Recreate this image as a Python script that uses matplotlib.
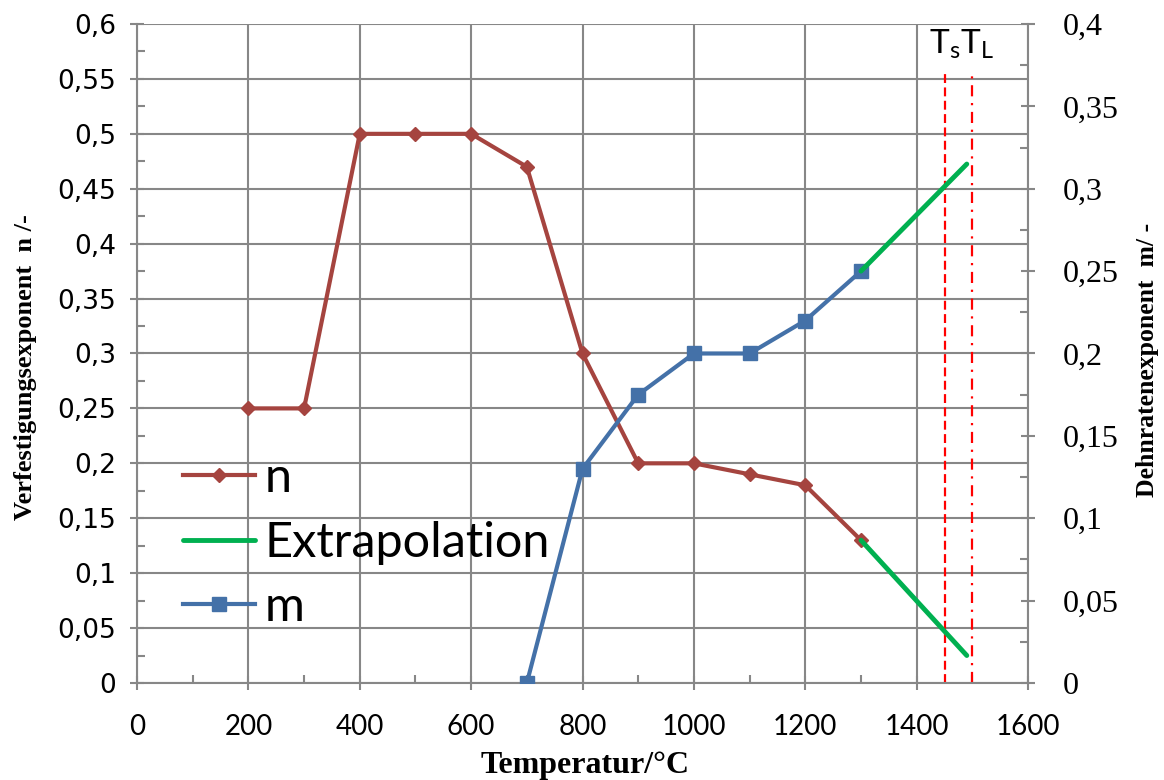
import numpy as np
import matplotlib
matplotlib.use("Agg")
import matplotlib.pyplot as plt
from matplotlib.ticker import MultipleLocator, FuncFormatter

# data
temp_n = [200, 300, 400, 500, 600, 700, 800, 900, 1000, 1100, 1200, 1300]
n_vals = [0.25, 0.25, 0.5, 0.5, 0.5, 0.47, 0.3, 0.2, 0.2, 0.19, 0.18, 0.13]
temp_m = [700, 800, 900, 1000, 1100, 1200, 1300]
m_vals = [0.0, 0.13, 0.175, 0.2, 0.2, 0.22, 0.25]
temp_extra = [1300, 1490]
n_extra = [0.13, 0.025]
m_extra = [0.25, 0.315]
T_s = 1450
T_L = 1500

red = "#A5443F"
blue = "#4471A8"
green = "#00B050"
gridc = "#878787"

fig = plt.figure(figsize=(11.64, 7.8), dpi=100)
ax = fig.add_axes([0.1177, 0.1244, 0.7655, 0.8448])
ax2 = ax.twinx()

l_n, = ax.plot(temp_n, n_vals, color=red, lw=3, marker="D", ms=7, zorder=3)
l_ex, = ax.plot(temp_extra, n_extra, color=green, lw=3.5, solid_capstyle="round", zorder=3)
ax.vlines(T_s, 0, 0.556, colors="red", linestyles=(0, (4, 2)), lw=1.6, zorder=2)
ax.vlines(T_L, 0, 0.556, colors="red", linestyles=(0, (5, 3, 1, 3)), lw=1.6, zorder=2)
ax.text(1480, 0.566, r"T$_\mathregular{s}$T$_\mathregular{L}$", ha="center", va="bottom",
        fontsize=24, family="Lato")

l_m, = ax2.plot(temp_m, m_vals, color=blue, lw=3, marker="s", ms=10, zorder=3)
ax2.plot(temp_extra, m_extra, color=green, lw=3.5, solid_capstyle="round", zorder=3)

ax.set_xlim(0, 1600)
ax.set_ylim(0, 0.6)
ax2.set_ylim(0, 0.4)

comma = FuncFormatter(lambda v, p: ("%g" % round(v, 3)).replace(".", ","))
ax.xaxis.set_major_locator(MultipleLocator(200))
ax.xaxis.set_minor_locator(MultipleLocator(100))
ax.yaxis.set_major_locator(MultipleLocator(0.05))
ax.yaxis.set_minor_locator(MultipleLocator(0.025))
ax.yaxis.set_major_formatter(comma)
ax2.yaxis.set_major_locator(MultipleLocator(0.05))
ax2.yaxis.set_minor_locator(MultipleLocator(0.025))
ax2.yaxis.set_major_formatter(comma)

ax.grid(True, which="major", color=gridc, lw=1.5)
ax.set_axisbelow(True)
for a in (ax, ax2):
    for s in a.spines.values():
        s.set_color(gridc)
        s.set_linewidth(1.5)
    a.spines["top"].set_visible(False)
ax2.spines["left"].set_visible(False)
ax2.spines["bottom"].set_visible(False)
ax.spines["right"].set_visible(False)

ax.tick_params(axis="x", which="major", direction="inout", length=10, width=1.5,
               color=gridc, pad=17, labelsize=20, labelfontfamily="Lato")
ax.tick_params(axis="y", which="major", direction="inout", length=10, width=1.5,
               color=gridc, pad=10, labelsize=19, labelfontfamily="DejaVu Sans")
ax.tick_params(axis="both", which="minor", direction="in", length=6, width=1.5, color=gridc)
ax2.tick_params(axis="y", which="major", direction="inout", length=10, width=1.5,
                color=gridc, pad=20, labelsize=23, labelfontfamily="Liberation Serif")
ax2.tick_params(axis="y", which="minor", direction="in", length=6, width=1.5, color=gridc)

ax.set_xlabel("Temperatur/°C", fontsize=23, family="Liberation Serif", fontweight="bold")
ax.xaxis.set_label_coords(0.503, -0.104)
ax.set_ylabel("Verfestigungsexponent  n /-", fontsize=19, family="Liberation Serif",
              fontweight="bold")
ax.yaxis.set_label_coords(-0.112, 0.48)
ax2.set_ylabel("Dehnratenexponent  m/ -", fontsize=18.5, family="Liberation Serif",
               fontweight="bold")
ax2.yaxis.set_label_coords(1.121, 0.49)

leg = ax2.legend([l_n, l_ex, l_m], ["n", "Extrapolation", "m"], loc="upper left",
                 bbox_to_anchor=(0.052, 0.344), frameon=False, numpoints=1,
                 prop={"family": "Lato", "size": 35}, handlelength=1.48,
                 handletextpad=0.19, labelspacing=0.42, borderpad=0, borderaxespad=0)

fig.savefig("out.png", dpi=100)
